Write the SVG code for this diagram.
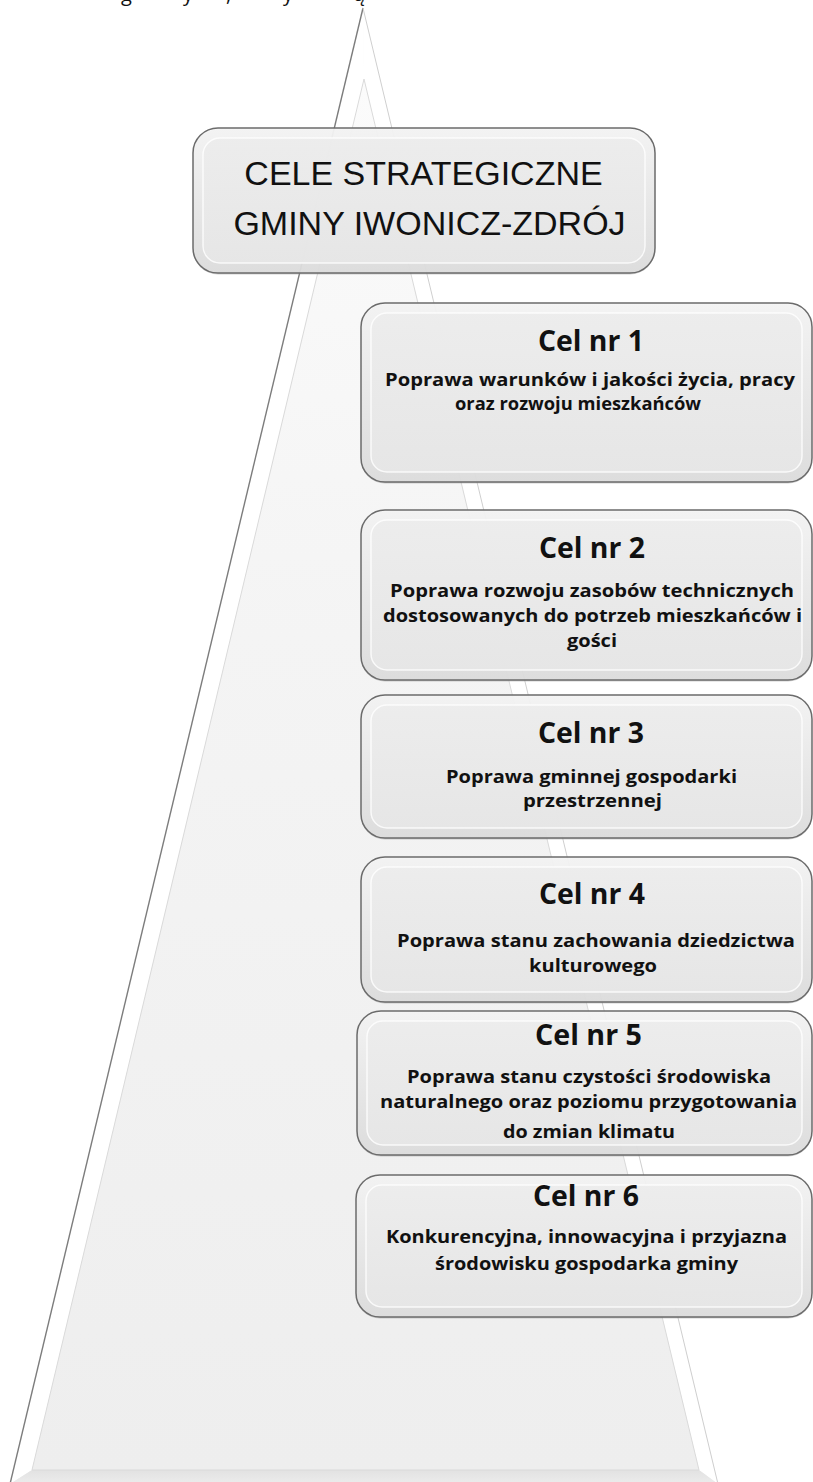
<svg xmlns="http://www.w3.org/2000/svg" width="813" height="1482" viewBox="0 0 813 1482">
  <defs>
    <linearGradient id="gTri" x1="0" y1="0" x2="0" y2="1">
      <stop offset="0" stop-color="#fbfbfb"/>
      <stop offset="0.4" stop-color="#f4f4f4"/>
      <stop offset="1" stop-color="#eeeeee"/>
    </linearGradient>
    <linearGradient id="gBase" x1="0" y1="0" x2="0" y2="1">
      <stop offset="0" stop-color="#e2e2e2"/>
      <stop offset="1" stop-color="#ececec"/>
    </linearGradient>
    <linearGradient id="gOuter" x1="0" y1="0" x2="0" y2="1">
      <stop offset="0" stop-color="#f6f6f6"/>
      <stop offset="1" stop-color="#dedede"/>
    </linearGradient>
    <linearGradient id="gInner" x1="0" y1="0" x2="0" y2="1">
      <stop offset="0" stop-color="#ececec"/>
      <stop offset="1" stop-color="#e7e7e7"/>
    </linearGradient>
  </defs>
  <style>
    .shadow { fill: #9a9a9a; fill-opacity: 0.45; }
    .outer { fill: url(#gOuter); fill-opacity: 0.92; stroke: #6b6b6b; stroke-width: 1.5; }
    .inner { fill: url(#gInner); fill-opacity: 0.9; stroke: #ffffff; stroke-opacity: 0.8; stroke-width: 1.5; }
    .title { font-family: "Liberation Sans", Arial, sans-serif; font-size: 34px; fill: #111111; text-anchor: middle; }
    .head { font-family: "Open Sans", "Noto Sans", sans-serif; font-weight: bold; font-size: 28px; fill: #111111; }
    .body { font-family: "Open Sans", "Noto Sans", sans-serif; font-weight: bold; font-size: 18.5px; fill: #111111; }
    .frag { font-family: "Open Sans", "Noto Sans", sans-serif; font-size: 20px; fill: #111111; }
  </style>

  <!-- background pyramid -->
  <g id="pyramid">
    <polygon points="363,8 10,1484 718,1484" fill="url(#gTri)"/>
    <polygon points="363,8 10,1484 32,1470 364,79" fill="#ffffff"/>
    <polygon points="363,8 718,1484 699,1470 364,79" fill="#ffffff"/>
    <polygon points="10,1484 718,1484 699,1470 32,1470" fill="url(#gBase)"/>
    <polygon points="364,79 32,1470 699,1470" fill="url(#gTri)" stroke="#dadada" stroke-width="1"/>
    <line x1="363" y1="8" x2="10" y2="1484" stroke="#7c7c7c" stroke-width="1.4"/>
    <line x1="363" y1="8" x2="718" y2="1484" stroke="#cfcfcf" stroke-width="1"/>
  </g>

  <text class="frag" y="0.5"><tspan x="121">g</tspan><tspan x="183">y</tspan><tspan x="226">,</tspan><tspan x="283">y</tspan><tspan x="354">ą</tspan></text>

  <g id="connectors"/>

  <g id="title">
    <rect class="shadow" x="193" y="129.5" width="462" height="145" rx="25"/>
    <rect class="outer" x="193" y="128" width="462" height="145" rx="25"/>
    <rect class="inner" x="203" y="138" width="442" height="125" rx="17"/>
    <text class="title" x="423.5" y="185">CELE STRATEGICZNE</text>
    <text class="title" x="429.5" y="235">GMINY IWONICZ-ZDRÓJ</text>
  </g>

  <g id="cel1">
    <rect class="shadow" x="361" y="304.5" width="451" height="179" rx="24"/>
    <rect class="outer" x="361" y="303" width="451" height="179" rx="24"/>
    <rect class="inner" x="371" y="313" width="431" height="159" rx="16"/>
    <text class="head" x="538" y="351" textLength="106" lengthAdjust="spacingAndGlyphs">Cel nr 1</text>
    <text class="body" x="385" y="386" textLength="410" lengthAdjust="spacingAndGlyphs">Poprawa warunków i jakości życia, pracy</text>
    <text class="body" x="455" y="410" textLength="246" lengthAdjust="spacingAndGlyphs">oraz rozwoju mieszkańców</text>
  </g>

  <g id="cel2">
    <rect class="shadow" x="361" y="511.5" width="451" height="170" rx="24"/>
    <rect class="outer" x="361" y="510" width="451" height="170" rx="24"/>
    <rect class="inner" x="371" y="520" width="431" height="150" rx="16"/>
    <text class="head" x="539" y="558" textLength="106" lengthAdjust="spacingAndGlyphs">Cel nr 2</text>
    <text class="body" x="390" y="597" textLength="404" lengthAdjust="spacingAndGlyphs">Poprawa rozwoju zasobów technicznych</text>
    <text class="body" x="383" y="622" textLength="419" lengthAdjust="spacingAndGlyphs">dostosowanych do potrzeb mieszkańców i</text>
    <text class="body" x="567" y="647" textLength="50" lengthAdjust="spacingAndGlyphs">gości</text>
  </g>

  <g id="cel3">
    <rect class="shadow" x="361" y="696.5" width="451" height="143" rx="24"/>
    <rect class="outer" x="361" y="695" width="451" height="143" rx="24"/>
    <rect class="inner" x="371" y="705" width="431" height="123" rx="16"/>
    <text class="head" x="538" y="743" textLength="106" lengthAdjust="spacingAndGlyphs">Cel nr 3</text>
    <text class="body" x="446" y="783" textLength="291" lengthAdjust="spacingAndGlyphs">Poprawa gminnej gospodarki</text>
    <text class="body" x="523" y="807" textLength="139" lengthAdjust="spacingAndGlyphs">przestrzennej</text>
  </g>

  <g id="cel4">
    <rect class="shadow" x="361" y="858.5" width="451" height="145" rx="24"/>
    <rect class="outer" x="361" y="857" width="451" height="145" rx="24"/>
    <rect class="inner" x="371" y="867" width="431" height="125" rx="16"/>
    <text class="head" x="539" y="904" textLength="106" lengthAdjust="spacingAndGlyphs">Cel nr 4</text>
    <text class="body" x="397" y="947" textLength="398" lengthAdjust="spacingAndGlyphs">Poprawa stanu zachowania dziedzictwa</text>
    <text class="body" x="529" y="972" textLength="128" lengthAdjust="spacingAndGlyphs">kulturowego</text>
  </g>

  <g id="cel5">
    <rect class="shadow" x="357" y="1012.5" width="455" height="144" rx="24"/>
    <rect class="outer" x="357" y="1011" width="455" height="144" rx="24"/>
    <rect class="inner" x="367" y="1021" width="435" height="124" rx="16"/>
    <text class="head" x="535" y="1045" textLength="107" lengthAdjust="spacingAndGlyphs">Cel nr 5</text>
    <text class="body" x="407" y="1083" textLength="364" lengthAdjust="spacingAndGlyphs">Poprawa stanu czystości środowiska</text>
    <text class="body" x="380" y="1108" textLength="417" lengthAdjust="spacingAndGlyphs">naturalnego oraz poziomu przygotowania</text>
    <text class="body" x="503" y="1138" textLength="172" lengthAdjust="spacingAndGlyphs">do zmian klimatu</text>
  </g>

  <g id="cel6">
    <rect class="shadow" x="356" y="1176.5" width="456" height="142" rx="24"/>
    <rect class="outer" x="356" y="1175" width="456" height="142" rx="24"/>
    <rect class="inner" x="366" y="1185" width="436" height="122" rx="16"/>
    <text class="head" x="533" y="1206" textLength="106" lengthAdjust="spacingAndGlyphs">Cel nr 6</text>
    <text class="body" x="386" y="1243" textLength="401" lengthAdjust="spacingAndGlyphs">Konkurencyjna, innowacyjna i przyjazna</text>
    <text class="body" x="435" y="1270" textLength="303" lengthAdjust="spacingAndGlyphs">środowisku gospodarka gminy</text>
  </g>
</svg>
